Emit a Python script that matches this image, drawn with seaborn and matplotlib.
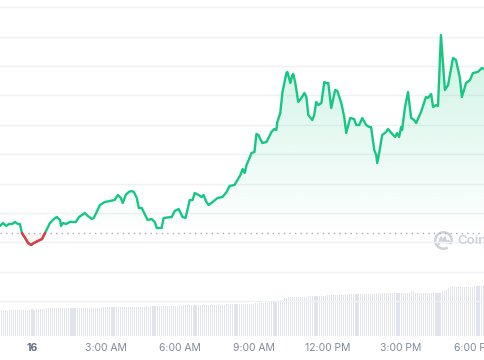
import numpy as np
import pandas as pd
import matplotlib
matplotlib.use("Agg")
import matplotlib.pyplot as plt
from matplotlib.path import Path
from matplotlib.patches import Arc
import seaborn as sns

# price trace, hours relative to midnight of the 16th
hours = [-1.30, -1.18, -1.05, -0.93, -0.81, -0.69, -0.57, -0.49, -0.41, -0.28,
         -0.16, -0.04, 0.08, 0.24, 0.41, 0.53, 0.61, 0.73, 0.89, 1.01,
         1.14, 1.18, 1.26, 1.38, 1.54, 1.78, 1.91, 2.03, 2.15, 2.27,
         2.43, 2.51, 2.63, 2.76, 2.96, 3.16, 3.36, 3.49, 3.61, 3.69,
         3.81, 3.93, 4.05, 4.14, 4.26, 4.34, 4.46, 4.58, 4.70, 4.86,
         4.99, 5.07, 5.27, 5.35, 5.68, 5.80, 5.96, 6.12, 6.24, 6.41,
         6.53, 6.61, 6.77, 6.89, 6.97, 7.09, 7.18, 7.34, 7.54, 7.74,
         7.91, 8.03, 8.23, 8.35, 8.47, 8.56, 8.64, 8.72, 8.84, 8.92,
         9.04, 9.12, 9.20, 9.36, 9.53, 9.73, 9.85, 9.93, 9.97, 10.09,
         10.18, 10.34, 10.38, 10.50, 10.58, 10.62, 10.70, 10.82, 10.95, 11.07,
         11.15, 11.23, 11.39, 11.47, 11.55, 11.64, 11.76, 11.88, 11.96, 12.04,
         12.16, 12.32, 12.41, 12.57, 12.69, 12.77, 12.93, 13.09, 13.18, 13.30,
         13.42, 13.58, 13.70, 13.78, 13.91, 13.99, 14.03, 14.11, 14.23, 14.39,
         14.47, 14.64, 14.76, 14.84, 14.92, 15.00, 15.04, 15.16, 15.28, 15.41,
         15.53, 15.61, 15.81, 16.01, 16.09, 16.22, 16.30, 16.42, 16.50, 16.62,
         16.78, 16.91, 17.11, 17.23, 17.39, 17.47, 17.64, 17.80, 17.92, 18.12,
         18.28, 18.37]
prices = [45.58, 46.60, 45.58, 46.26, 46.26, 46.94, 46.26, 46.26, 43.20, 41.50,
          39.80, 39.12, 39.80, 40.48, 41.16, 43.20, 44.56, 46.60, 47.96, 48.64,
          47.62, 45.58, 46.60, 46.26, 46.94, 46.94, 48.64, 49.32, 50.00, 48.98,
          47.96, 48.30, 50.34, 52.72, 53.74, 54.08, 54.42, 56.12, 55.10, 53.40,
          56.12, 57.14, 57.48, 57.14, 55.10, 51.70, 51.70, 49.66, 47.62, 47.96,
          46.94, 44.90, 44.90, 48.30, 48.64, 50.68, 51.36, 48.64, 48.30, 54.42,
          54.42, 56.80, 56.12, 55.44, 56.12, 53.74, 52.72, 53.74, 55.10, 55.44,
          57.14, 59.18, 59.52, 61.22, 62.93, 64.97, 63.61, 66.33, 68.71, 70.41,
          70.75, 76.87, 76.53, 73.81, 74.15, 77.55, 78.57, 78.23, 80.95, 84.01,
          91.16, 97.62, 97.96, 94.22, 96.94, 97.28, 94.22, 87.76, 89.12, 90.82,
          89.46, 83.33, 81.63, 83.33, 87.76, 86.73, 87.41, 94.56, 94.22, 94.22,
          85.71, 91.84, 91.50, 87.41, 82.65, 77.21, 82.31, 81.97, 79.93, 79.93,
          82.31, 79.93, 79.25, 79.25, 71.43, 69.73, 67.01, 70.41, 76.53, 77.55,
          78.57, 76.87, 75.85, 77.21, 75.85, 79.25, 78.23, 86.05, 91.16, 82.31,
          81.63, 80.61, 84.35, 89.46, 89.12, 90.48, 86.05, 86.73, 86.39, 110.54,
          91.84, 93.54, 102.72, 102.04, 95.92, 89.46, 94.22, 95.24, 97.62, 97.96,
          99.32, 98.98]
open_price = 43.20

# volume, one bar every 5 minutes starting 22:45
volume = [26, 26, 26, 25, 26, 26, 26, 26, 26, 26, 26, 26,
          26, 26, 26, 27, 26, 27, 27, 27, 27, 27, 28, 28,
          28, 28, 28, 28, 28, 28, 28, 28, 28, 28, 28, 28,
          28, 28, 28, 28, 28, 28, 28, 28, 29, 28, 28, 28,
          28, 28, 29, 29, 29, 29, 29, 29, 29, 29, 29, 29,
          29, 29, 29, 29, 29, 29, 29, 29, 29, 29, 29, 30,
          29, 30, 30, 30, 30, 30, 30, 30, 30, 30, 30, 30,
          30, 30, 30, 31, 30, 31, 31, 31, 31, 31, 31, 31,
          31, 31, 31, 31, 31, 31, 31, 31, 31, 31, 32, 31,
          31, 31, 32, 32, 32, 32, 32, 32, 32, 32, 32, 32,
          32, 32, 32, 32, 33, 32, 33, 33, 33, 33, 33, 34,
          34, 34, 34, 34, 36, 36, 38, 38, 39, 39, 39, 39,
          39, 39, 39, 39, 39, 39, 40, 40, 40, 40, 40, 40,
          40, 40, 40, 41, 41, 41, 41, 41, 41, 41, 41, 41,
          41, 41, 42, 42, 42, 42, 42, 42, 42, 42, 42, 42,
          42, 42, 42, 42, 43, 43, 43, 43, 43, 43, 43, 43,
          43, 43, 43, 43, 43, 43, 43, 43, 45, 45, 43, 43,
          43, 43, 43, 43, 43, 43, 43, 43, 43, 43, 43, 45,
          45, 46, 48, 49, 49, 49, 49, 49, 49, 49, 49, 49,
          49, 49, 49, 50, 50, 50, 50, 50]

tick_hours = [0, 3, 6, 9, 12, 15, 18]
tick_labels = ["16", "3:00 AM", "6:00 AM", "9:00 AM", "12:00 PM", "3:00 PM", "6:00 PM"]

GREEN = "#16c784"
RED = "#ea3943"
MARK = "#cdd1da"

sns.set_style("white")
plt.rcParams["font.family"] = ["Inter", "DejaVu Sans"]

df = pd.DataFrame({"hour": hours, "price": prices})
vol_df = pd.DataFrame({"hour": -1.25 + np.arange(len(volume)) / 12, "volume": volume})

fig = plt.figure(figsize=(4.85, 3.6), dpi=100)
ax = fig.add_axes([0, 24 / 360, 1, 336 / 360])
xmin, xmax = -1.30, 18.41
ymin, ymax = 8.16, 122.45

# volume underneath
ax2 = ax.twinx()
ax2.bar(vol_df["hour"], vol_df["volume"], width=0.045, color="#e2e4ec", linewidth=0)
ax2.set_ylim(0, 336)
ax2.axis("off")
ax.set_zorder(ax2.get_zorder() + 1)
ax.patch.set_visible(False)

# gradient fill under the green part
fill = ax.fill_between(df["hour"], df["price"], open_price, where=df["price"] >= open_price,
                       interpolate=True, facecolor="none", edgecolor="none")
clip = Path.make_compound_path(*fill.get_paths())
grad = np.zeros((256, 1, 4))
grad[..., :3] = matplotlib.colors.to_rgb(GREEN)
grad[..., 3] = np.linspace(0.22, 0.0, 256)[:, None]
im = ax.imshow(grad, extent=[xmin, xmax, open_price, 112], aspect="auto",
               origin="upper", zorder=1, interpolation="bicubic")
im.set_clip_path(clip, transform=ax.transData)
ax.fill_between(df["hour"], df["price"], open_price, where=df["price"] <= open_price,
                interpolate=True, color=RED, alpha=0.05, linewidth=0)

ax.axhline(open_price, color="#a6acb9", lw=1, ls=(0, (1, 3)), zorder=2)

sns.lineplot(data=df, x="hour", y="price", color=GREEN, lw=1.7, ax=ax, zorder=3)
red = df[df["price"] <= open_price]
sns.lineplot(data=red, x="hour", y="price", color=RED, lw=1.7, ax=ax, zorder=4)

ax.set_xlim(xmin, xmax)
ax.set_ylim(ymin, ymax)
ax.set_yticks(range(20, 121, 10))
ax.yaxis.grid(True, color="#eff1f4", lw=1)
ax.set_axisbelow(True)
ax.tick_params(axis="y", left=False, labelleft=False)
ax.set_xticks(tick_hours)
ax.set_xticklabels(tick_labels, fontsize=7.5, color="#808a9d")
ax.get_xticklabels()[0].set_fontweight("bold")
ax.get_xticklabels()[0].set_color("#616e85")
ax.tick_params(axis="x", length=0, pad=5)
ax.set_xlabel("")
ax.set_ylabel("")
for s in ax.spines.values():
    s.set_visible(False)

# watermark: logo drawn as a shape, name as text
lax = fig.add_axes([434 / 485, 110 / 360, 19 / 485, 19 / 360])
lax.set_xlim(-1.1, 1.1)
lax.set_ylim(-1.1, 1.1)
lax.axis("off")
lax.add_patch(Arc((0, 0), 1.9, 1.9, theta1=-20, theta2=300, color=MARK, lw=1.8))
lax.plot([-0.55, -0.3, -0.05, 0.15, 0.35, 0.55, 0.85],
         [-0.4, 0.35, -0.2, 0.35, -0.25, -0.05, -0.35], color=MARK, lw=1.6,
         solid_joinstyle="round", solid_capstyle="round")
ax.text(0.943, 0.283, "CoinMarketCap", transform=ax.transAxes, fontsize=9.5,
        color=MARK, ha="left", va="center", fontweight="semibold")

fig.savefig("out.png", dpi=100)
